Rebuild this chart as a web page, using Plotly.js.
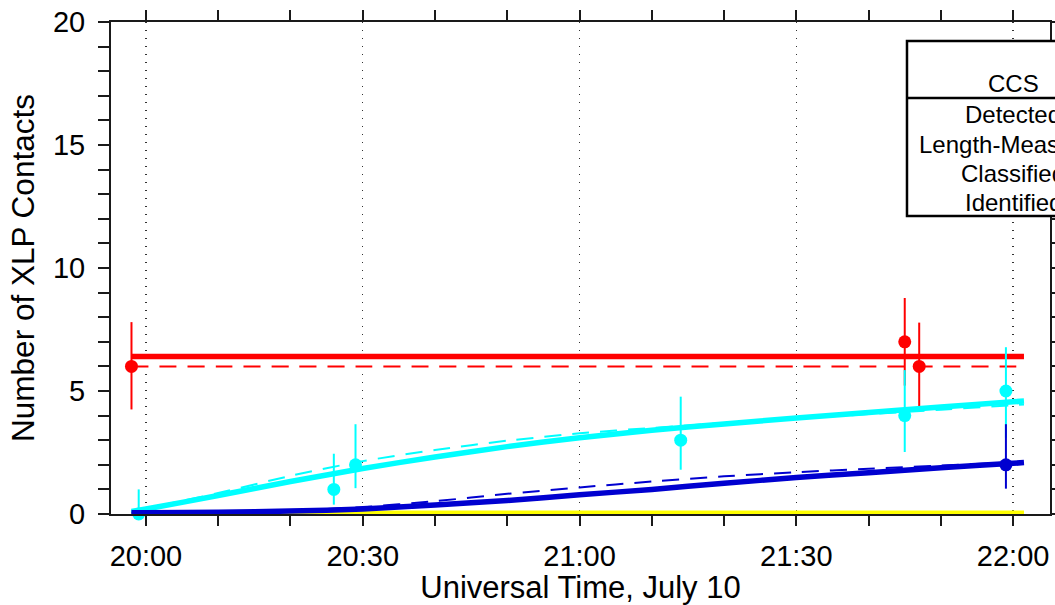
<!DOCTYPE html>
<html>
<head>
<meta charset="utf-8">
<script src="https://cdn.plot.ly/plotly-3.0.1.min.js"></script>
<style>
html,body{margin:0;padding:0;overflow:hidden;background:#fff;}
#chart{width:1055px;height:605px;overflow:hidden;}
</style>
</head>
<body>
<div id="chart"></div>
<script>
// ---- data ----
const DAY = '2000-07-10 ';
const fitTimes = ['19:58','20:00','20:10','20:20','20:30','20:40','20:50','21:00','21:10','21:20','21:30','21:40','21:50','22:00','22:01:30'];
const identifiedFit = [0,0,0,0,0,0,0,0,0,0,0,0,0,0,0];
const detectedFit = [6.4,6.4,6.4,6.4,6.4,6.4,6.4,6.4,6.4,6.4,6.4,6.4,6.4,6.4,6.4];
const detectedMean = [6,6,6,6,6,6,6,6,6,6,6,6,6,6,6];
const lengthFit = [0.1,0.2,0.75,1.32,1.85,2.32,2.74,3.1,3.4,3.66,3.9,4.13,4.35,4.56,4.59];
const lengthFitDash = [0.1,0.22,0.85,1.55,2.15,2.6,2.98,3.28,3.5,3.7,3.88,4.06,4.24,4.42,4.45];
const classFit = [0.05,0.05,0.07,0.12,0.2,0.37,0.55,0.78,1.0,1.25,1.48,1.68,1.88,2.06,2.09];
const classFitDash = [0.05,0.05,0.07,0.14,0.28,0.52,0.82,1.08,1.32,1.53,1.7,1.84,1.97,2.1,2.12];

const detTimes = ['19:58','21:45','21:47'];
const detValues = [6,7,6];
const detErrUp = [1.8,1.78,1.78];
const detErrDown = [1.75,1.78,1.65];

const lenTimes = ['19:59','20:26','20:29','21:14','21:45','21:59'];
const lenValues = [0,1,2,3,4,5];
const lenErrUp = [1.0,1.45,1.65,1.77,1.85,1.78];
const lenErrDown = [0,0.62,0.95,1.2,1.48,1.9];

const clsTimes = ['21:59'];
const clsValues = [2];
const clsErrUp = [1.65];
const clsErrDown = [0.97];

const legendHeader = 'CCS';
const legendItems = ['Detected','Length-Measured','Classified','Identified'];

const xTitle = 'Universal Time, July 10';
const yTitle = 'Number of XLP Contacts';

// ---- styles ----
const RED = '#ff0000', CYAN = '#00ffff', BLUE = '#0000d0', YELLOW = '#ffff00';
const FONT = 'Liberation Sans, Arial, Helvetica, sans-serif';
const t = arr => arr.map(s => DAY + s);

function fitLine(y, color, width, dash) {
  return {x: t(fitTimes), y: y, type: 'scatter', mode: 'lines',
    line: {color: color, width: width, dash: dash || 'solid', shape: 'spline', smoothing: 0.6},
    hoverinfo: 'skip'};
}
function points(x, y, up, dn, color) {
  return {x: t(x), y: y, type: 'scatter', mode: 'markers', cliponaxis: false,
    marker: {color: color, size: 13, line: {width: 0}},
    error_y: {type: 'data', symmetric: false, array: up, arrayminus: dn,
      color: color, thickness: 2, width: 0}};
}

const data = [
  fitLine(identifiedFit, YELLOW, 7),
  fitLine(detectedMean, RED, 2, '17px,11px'),
  fitLine(detectedFit, RED, 5.5),
  points(detTimes, detValues, detErrUp, detErrDown, RED),
  fitLine(lengthFitDash, CYAN, 2, '17px,11px'),
  fitLine(lengthFit, CYAN, 5.5),
  points(lenTimes, lenValues, lenErrUp, lenErrDown, CYAN),
  fitLine(classFitDash, BLUE, 2, '17px,11px'),
  fitLine(classFit, BLUE, 5.5),
  points(clsTimes, clsValues, clsErrUp, clsErrDown, BLUE)
];

// legend box geometry (paper coords)
const boxX0 = 0.8477, boxX1 = 1.3, boxY0 = 0.6057, boxY1 = 0.9614, boxDiv = 0.8455;
const textX = 0.9606;
const rowY = [0.811, 0.752, 0.693, 0.634];

const annotations = [{text: legendHeader, x: textX, y: 0.874}]
  .concat(legendItems.map((s, i) => ({text: s, x: textX, y: rowY[i]})))
  .map(a => Object.assign(a, {xref: 'paper', yref: 'paper', xanchor: 'center', yanchor: 'middle',
    showarrow: false, font: {family: FONT, size: 24, color: '#000'}}));

const axisCommon = {
  ticks: 'outside', tickwidth: 2, tickcolor: '#1a1a1a',
  showline: true, linewidth: 2, linecolor: '#1a1a1a', mirror: 'ticks',
  zeroline: false, tickfont: {family: FONT, size: 29, color: '#000'}
};

const layout = {
  width: 1055, height: 605,
  margin: {l: 111, r: 5, t: 22, b: 91},
  paper_bgcolor: '#fff', plot_bgcolor: '#fff',
  showlegend: false,
  font: {family: FONT, color: '#000'},
  xaxis: Object.assign({}, axisCommon, {
    type: 'date',
    range: [DAY + '19:55:10', DAY + '22:05:06'],
    tickmode: 'linear', tick0: DAY + '20:00', dtick: 1800000,
    tickformat: '%H:%M', ticklen: 10, ticklabelstandoff: 5,
    showgrid: true, gridcolor: '#333', gridwidth: 1.3, griddash: '1.3px,6.7px',
    minor: {dtick: 600000, ticks: 'outside', ticklen: 10, tickwidth: 2, tickcolor: '#1a1a1a', showgrid: false},
    title: {text: xTitle, font: {family: FONT, size: 31, color: '#000'}, standoff: 8}
  }),
  yaxis: Object.assign({}, axisCommon, {
    range: [0, 20], tickmode: 'linear', tick0: 0, dtick: 5,
    ticklen: 11, ticklabelstandoff: 7, showgrid: false,
    minor: {dtick: 1, ticks: 'outside', ticklen: 11, tickwidth: 2, tickcolor: '#1a1a1a', showgrid: false},
    title: {text: yTitle, font: {family: FONT, size: 31.5, color: '#000'}, standoff: 9}
  }),
  shapes: [
    {type: 'rect', xref: 'paper', yref: 'paper', x0: boxX0, x1: boxX1, y0: boxY0, y1: boxY1,
     line: {color: '#000', width: 2.5}, fillcolor: '#fff', layer: 'above'},
    {type: 'line', xref: 'paper', yref: 'paper', x0: boxX0, x1: boxX1, y0: boxDiv, y1: boxDiv,
     line: {color: '#000', width: 2.5}, layer: 'above'}
  ],
  annotations: annotations
};

Plotly.newPlot('chart', data, layout, {displayModeBar: false, staticPlot: true});
</script>
</body>
</html>
